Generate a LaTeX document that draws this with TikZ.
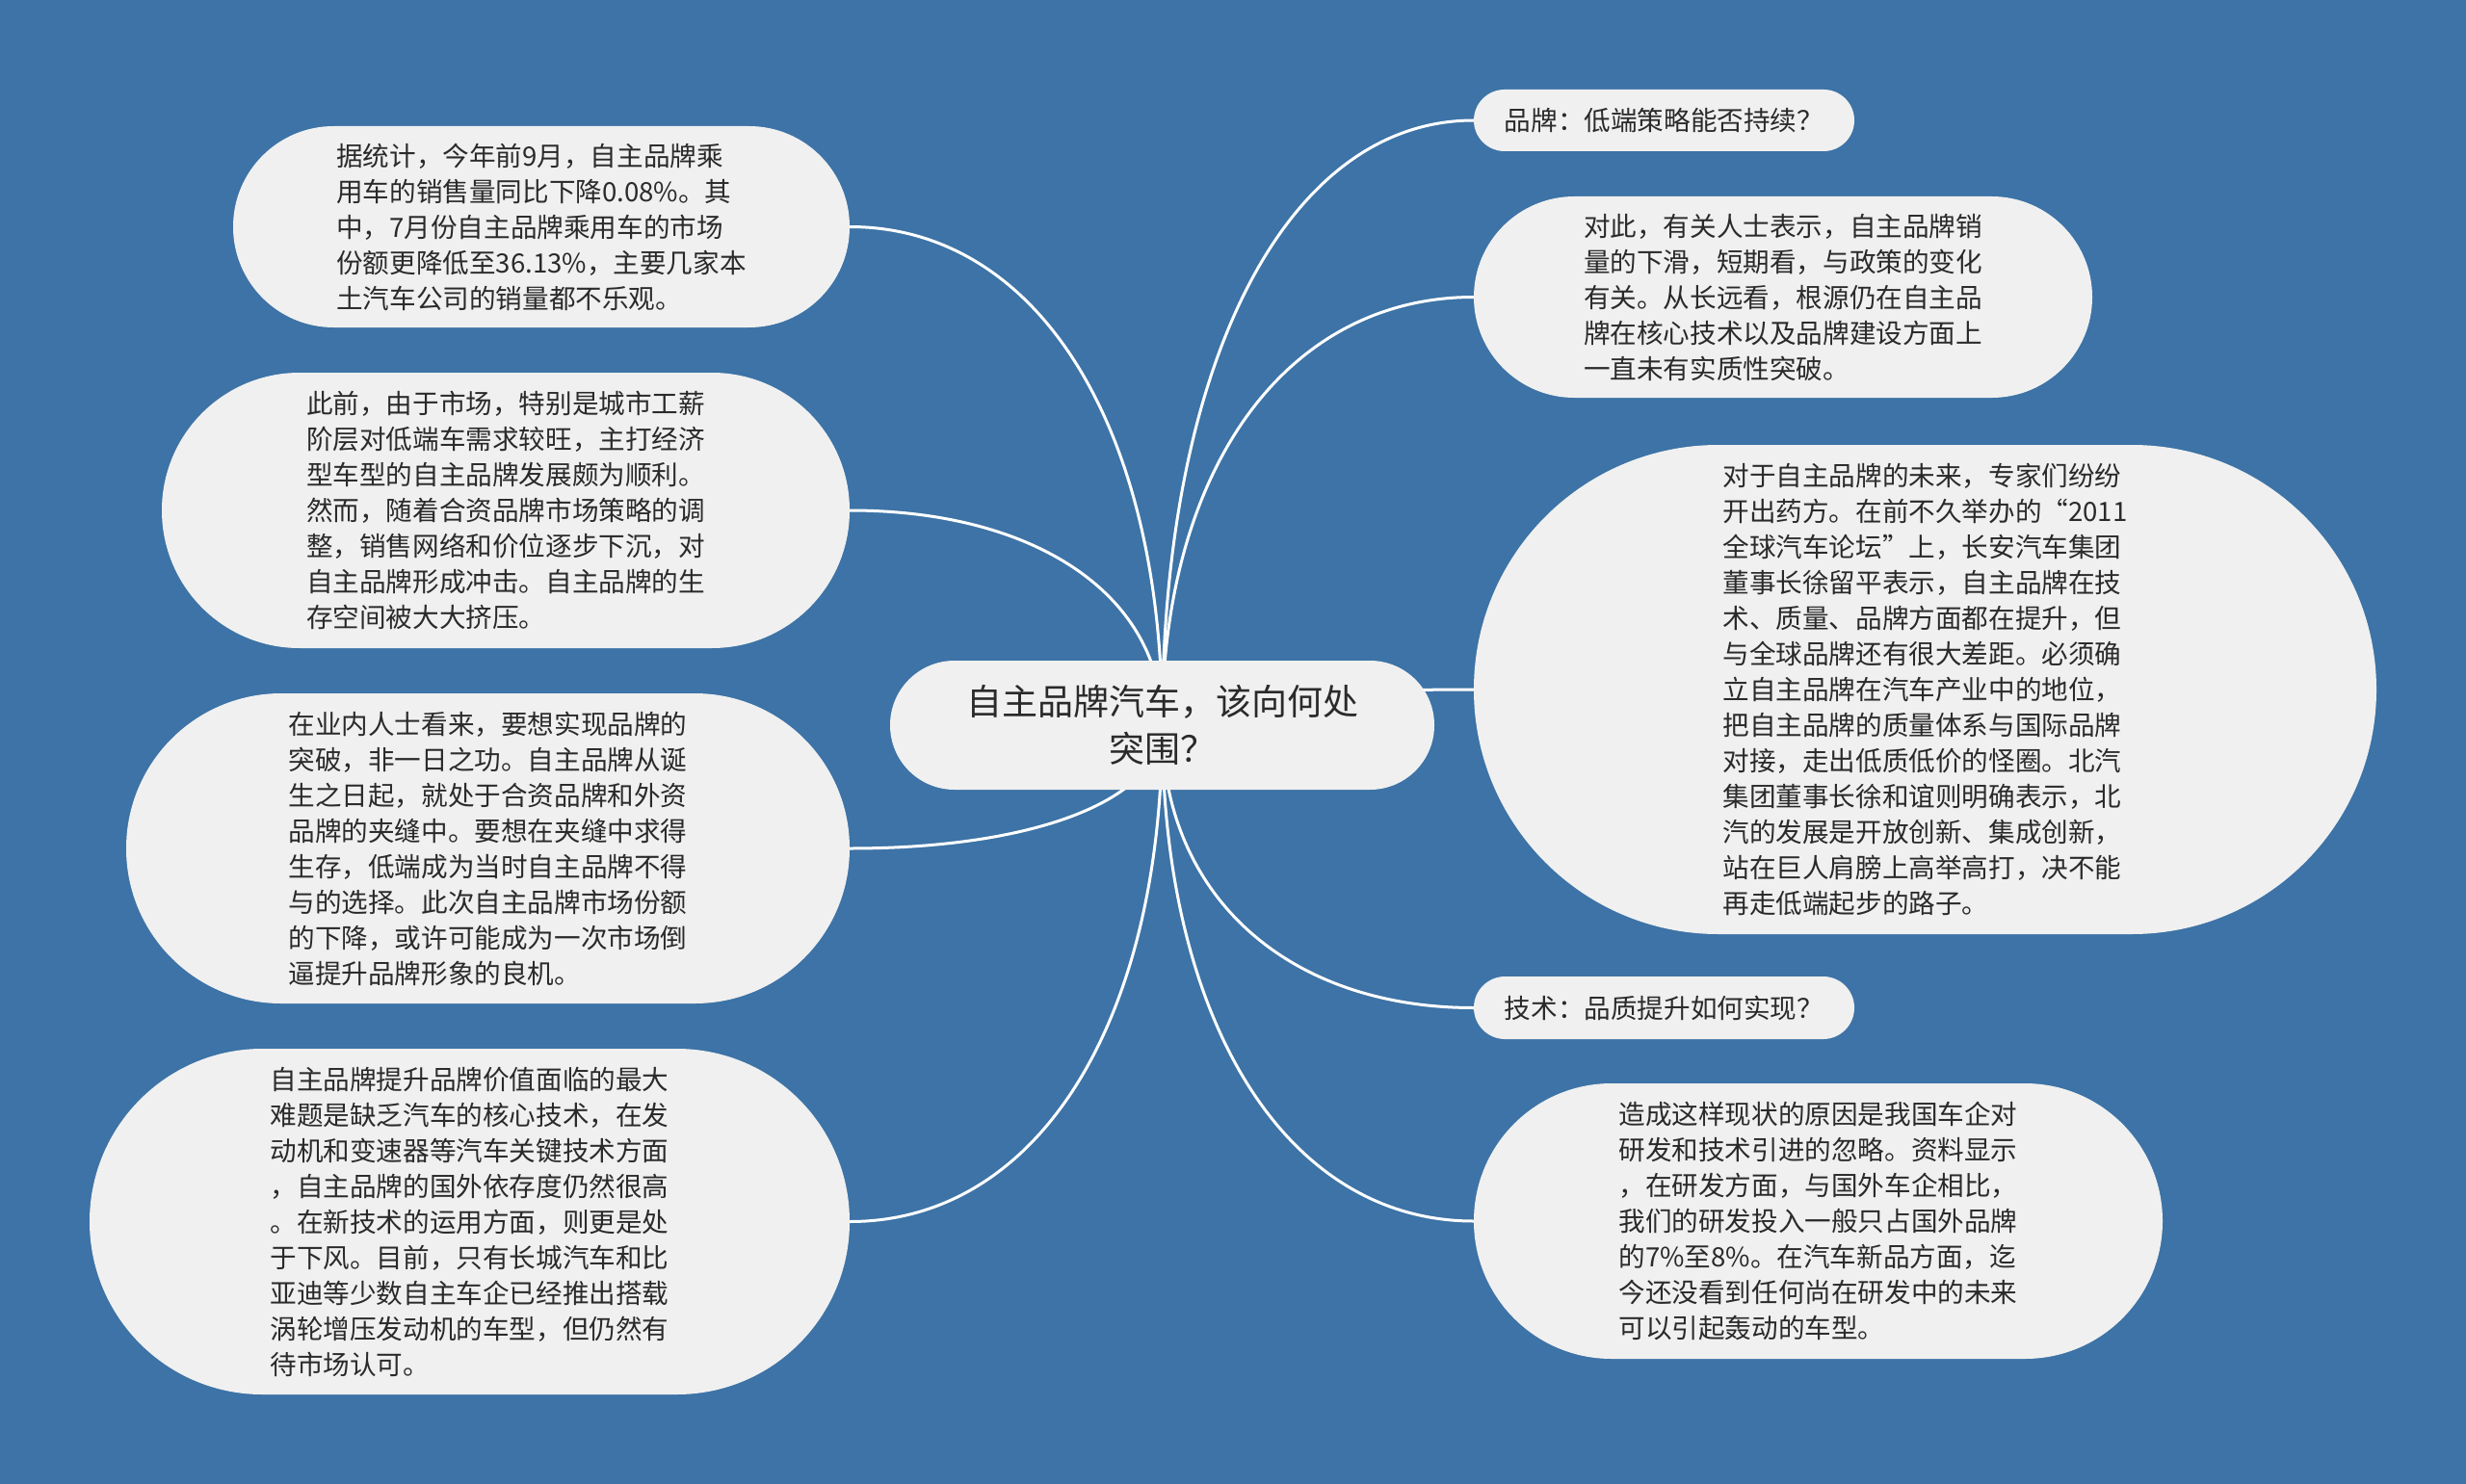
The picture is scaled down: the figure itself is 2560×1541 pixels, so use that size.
\documentclass[tikz,border=0pt]{standalone}
\usepackage{fontspec}
\newfontfamily\cjk{Noto Sans CJK SC}
\usetikzlibrary{calc}
\pgfdeclarelayer{background}
\pgfsetlayers{background,main}
\definecolor{bgblue}{HTML}{3D73A6}
\definecolor{nodefill}{HTML}{F0F0F0}
\definecolor{txt}{HTML}{2A2A2A}
\newcommand\linkto[1]{\draw[link] (c.center) .. controls ($(c.center)!0.6!(c.center|-#1)$) and ($(#1)!0.6!(c.center|-#1)$) .. (#1);}
\begin{document}
\begin{tikzpicture}[x=1pt,y=-1pt,
  bubble/.style n args={3}{rectangle, fill=nodefill, text=txt, inner sep=0pt,
    minimum width=#1, minimum height=#2, rounded corners=#3},
  body/.style={font=\cjk\fontsize{27.6}{37}\selectfont, align=left},
  rootfont/.style={font=\cjk\fontsize{37}{49}\selectfont, align=center},
  link/.style={draw=white, line width=3pt}]
\useasboundingbox (0,0) rectangle (2560,1541);

% central
\node[bubble={565pt}{134pt}{66.9pt}, rootfont] (c) at (1206.5,753) {自主品牌汽车，该向何处\\突围？};

% left
\node[bubble={640pt}{209pt}{104.4pt}, body] (l1) at (562,235.5) {据统计，今年前9月，自主品牌乘\\用车的销售量同比下降0.08\%。其\\中，7月份自主品牌乘用车的市场\\份额更降低至36.13\%，主要几家本\\土汽车公司的销量都不乐观。};
\node[bubble={714pt}{286pt}{142.9pt}, body] (l2) at (525,530) {此前，由于市场，特别是城市工薪\\阶层对低端车需求较旺，主打经济\\型车型的自主品牌发展颇为顺利。\\然而，随着合资品牌市场策略的调\\整，销售网络和价位逐步下沉，对\\自主品牌形成冲击。自主品牌的生\\存空间被大大挤压。};
\node[bubble={751pt}{322pt}{160.9pt}, body] (l3) at (506.5,881) {在业内人士看来，要想实现品牌的\\突破，非一日之功。自主品牌从诞\\生之日起，就处于合资品牌和外资\\品牌的夹缝中。要想在夹缝中求得\\生存，低端成为当时自主品牌不得\\与的选择。此次自主品牌市场份额\\的下降，或许可能成为一次市场倒\\逼提升品牌形象的良机。};
\node[bubble={789pt}{359pt}{179.4pt}, body] (l4) at (487.5,1268.5) {自主品牌提升品牌价值面临的最大\\难题是缺乏汽车的核心技术，在发\\动机和变速器等汽车关键技术方面\\，自主品牌的国外依存度仍然很高\\。在新技术的运用方面，则更是处\\于下风。目前，只有长城汽车和比\\亚迪等少数自主车企已经推出搭载\\涡轮增压发动机的车型，但仍然有\\待市场认可。};

% right
\node[bubble={395pt}{64pt}{31.9pt}, body] (r1) at (1727.5,125) {品牌：低端策略能否持续？};
\node[bubble={642pt}{209pt}{104.4pt}, body] (r2) at (1851,308.5) {对此，有关人士表示，自主品牌销\\量的下滑，短期看，与政策的变化\\有关。从长远看，根源仍在自主品\\牌在核心技术以及品牌建设方面上\\一直未有实质性突破。};
\node[bubble={937pt}{508pt}{253.9pt}, body] (r3) at (1998.5,716) {对于自主品牌的未来，专家们纷纷\\开出药方。在前不久举办的“2011\\全球汽车论坛”上，长安汽车集团\\董事长徐留平表示，自主品牌在技\\术、质量、品牌方面都在提升，但\\与全球品牌还有很大差距。必须确\\立自主品牌在汽车产业中的地位，\\把自主品牌的质量体系与国际品牌\\对接，走出低质低价的怪圈。北汽\\集团董事长徐和谊则明确表示，北\\汽的发展是开放创新、集成创新，\\站在巨人肩膀上高举高打，决不能\\再走低端起步的路子。};
\node[bubble={395pt}{65pt}{32.4pt}, body] (r4) at (1727.5,1046.5) {技术：品质提升如何实现？};
\node[bubble={715pt}{286pt}{142.9pt}, body] (r5) at (1887.5,1268) {造成这样现状的原因是我国车企对\\研发和技术引进的忽略。资料显示\\，在研发方面，与国外车企相比，\\我们的研发投入一般只占国外品牌\\的7\%至8\%。在汽车新品方面，迄\\今还没看到任何尚在研发中的未来\\可以引起轰动的车型。};

\begin{pgfonlayer}{background}
\fill[bgblue] (0,0) rectangle (2560,1541);
\linkto{l1.east}
\linkto{l2.east}
\linkto{l3.east}
\linkto{l4.east}
\linkto{r1.west}
\linkto{r2.west}
\linkto{r3.west}
\linkto{r4.west}
\linkto{r5.west}
\end{pgfonlayer}
\end{tikzpicture}
\end{document}
